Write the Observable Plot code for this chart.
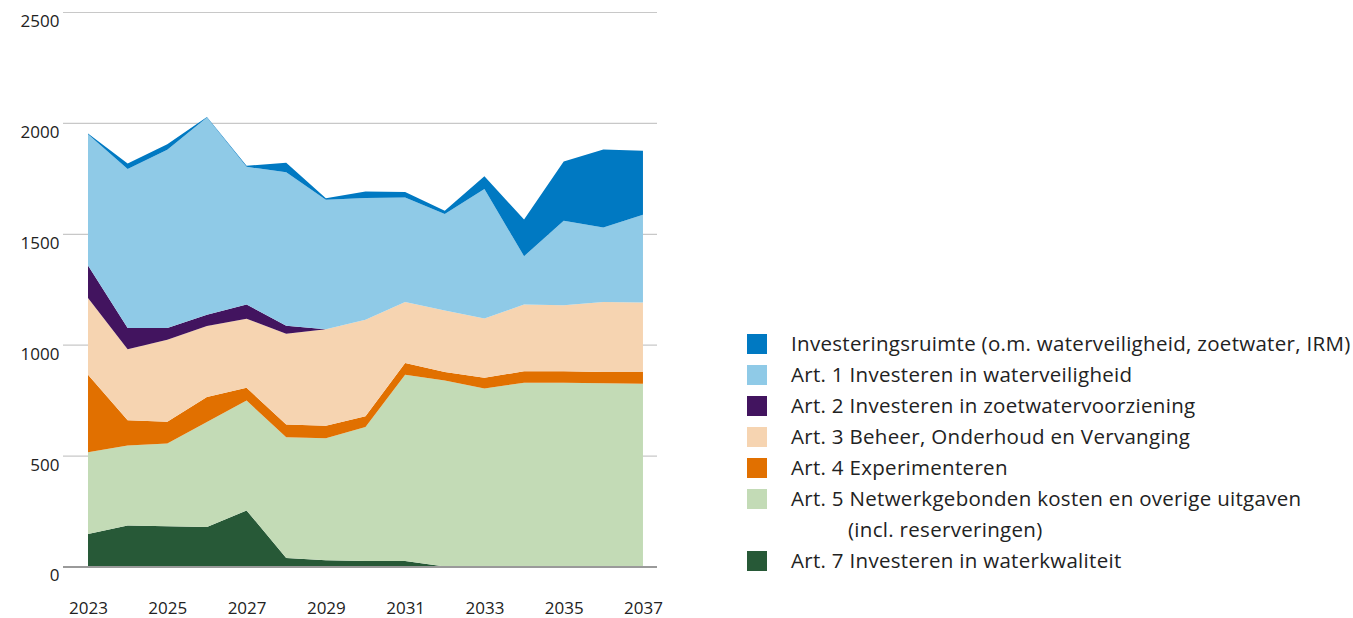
<!DOCTYPE html>
<html>
<head>
<meta charset="utf-8">
<script src="https://cdn.jsdelivr.net/npm/d3@7"></script>
<script src="https://cdn.jsdelivr.net/npm/@observablehq/plot@0.6"></script>
<style>
  html, body { margin: 0; padding: 0; background: #fff; }
  #wrap { position: relative; width: 1353px; height: 618px; font-family: "Open Sans", "Noto Sans", sans-serif; color: #222; }
  #chart { position: absolute; left: 0; top: 0; }
  #legend { position: absolute; left: 747px; top: 328px; font-size: 20.5px; letter-spacing: 0.3px; line-height: 31px; }
  .row { display: flex; align-items: center; height: 31px; white-space: nowrap; }
  .sw { width: 20px; height: 20px; margin-right: 24px; flex: none; }
  .indent { padding-left: 101px; }
</style>
</head>
<body>
<div id="wrap">
  <div id="chart"></div>
  <div id="legend"></div>
</div>
<script>
const years = [2023, 2024, 2025, 2026, 2027, 2028, 2029, 2030, 2031, 2032, 2033, 2034, 2035, 2036, 2037];

const seriesNames = [
  "Art. 7 Investeren in waterkwaliteit",
  "Art. 5 Netwerkgebonden kosten en overige uitgaven",
  "Art. 4 Experimenteren",
  "Art. 3 Beheer, Onderhoud en Vervanging",
  "Art. 2 Investeren in zoetwatervoorziening",
  "Art. 1 Investeren in waterveiligheid",
  "Investeringsruimte (o.m. waterveiligheid, zoetwater, IRM)"
];
const seriesColors = ["#275937", "#c3dbb6", "#e17000", "#f6d4b1", "#42145f", "#8fcae7", "#0079c2"];

const art7   = [146, 185, 181, 178, 253,  38,  28,  25,  25,   0,   0,   0,   0,   0,   0];
const art5   = [369, 360, 373, 474, 495, 545, 550, 604, 840, 839, 802, 829, 829, 826, 824];
const art4   = [350, 114,  99, 112,  58,  57,  57,  48,  52,  38,  49,  51,  51,  51,  53];
const art3   = [346, 321, 369, 320, 311, 409, 435, 435, 275, 277, 267, 301, 298, 315, 313];
const art2   = [146,  95,  53,  51,  64,  36,   0,   0,   0,   0,   0,   0,   0,   0,   0];
const art1   = [592, 717, 804, 889, 621, 692, 584, 549, 472, 435, 584, 218, 381, 336, 396];
const invest = [  3,  25,  25,   3,   5,  43,   6,  30,  24,  15,  58, 165, 267, 352, 288];

const yTicks = [0, 500, 1000, 1500, 2000, 2500];
const xTicks = [2023, 2025, 2027, 2029, 2031, 2033, 2035, 2037];

const legendOrder = [6, 5, 4, 3, 2, 1, 0];
const legendExtra = { 1: "(incl. reserveringen)" };

const seriesValues = [art7, art5, art4, art3, art2, art1, invest];
const data = [];
seriesNames.forEach((name, i) => {
  years.forEach((yr, j) => data.push({ year: yr, value: seriesValues[i][j], series: name }));
});

const chart = Plot.plot({
  width: 680,
  height: 618,
  marginLeft: 63,
  marginRight: 23,
  marginTop: 12,
  marginBottom: 51.5,
  style: { fontFamily: "'Open Sans', 'Noto Sans', sans-serif", fontSize: "17px", color: "#222", background: "#fff" },
  x: { domain: [2022.369, 2037.354] },
  y: { domain: [0, 2500] },
  color: { domain: seriesNames, range: seriesColors },
  marks: [
    Plot.ruleY(yTicks.filter(d => d > 0), { stroke: "#c8c8c8", strokeWidth: 1.2 }),
    Plot.areaY(data, { x: "year", y: "value", fill: "series", z: "series", order: seriesNames, curve: "linear" }),
    Plot.ruleY([0], { stroke: "#9a9a9a", strokeWidth: 2 }),
    Plot.axisY(yTicks, { tickSize: 0, tickPadding: 4, dy: 9, label: null, tickFormat: d => String(d) }),
    Plot.axisX(xTicks, { tickSize: 0, tickPadding: 35, label: null, tickFormat: d => String(d) })
  ]
});
document.getElementById("chart").appendChild(chart);

const legend = document.getElementById("legend");
legendOrder.forEach(i => {
  const row = document.createElement("div");
  row.className = "row";
  const sw = document.createElement("span");
  sw.className = "sw";
  sw.style.background = seriesColors[i];
  const t = document.createElement("span");
  t.textContent = seriesNames[i];
  row.appendChild(sw);
  row.appendChild(t);
  legend.appendChild(row);
  if (legendExtra[i]) {
    const r2 = document.createElement("div");
    r2.className = "row indent";
    r2.textContent = legendExtra[i];
    legend.appendChild(r2);
  }
});
</script>
</body>
</html>
